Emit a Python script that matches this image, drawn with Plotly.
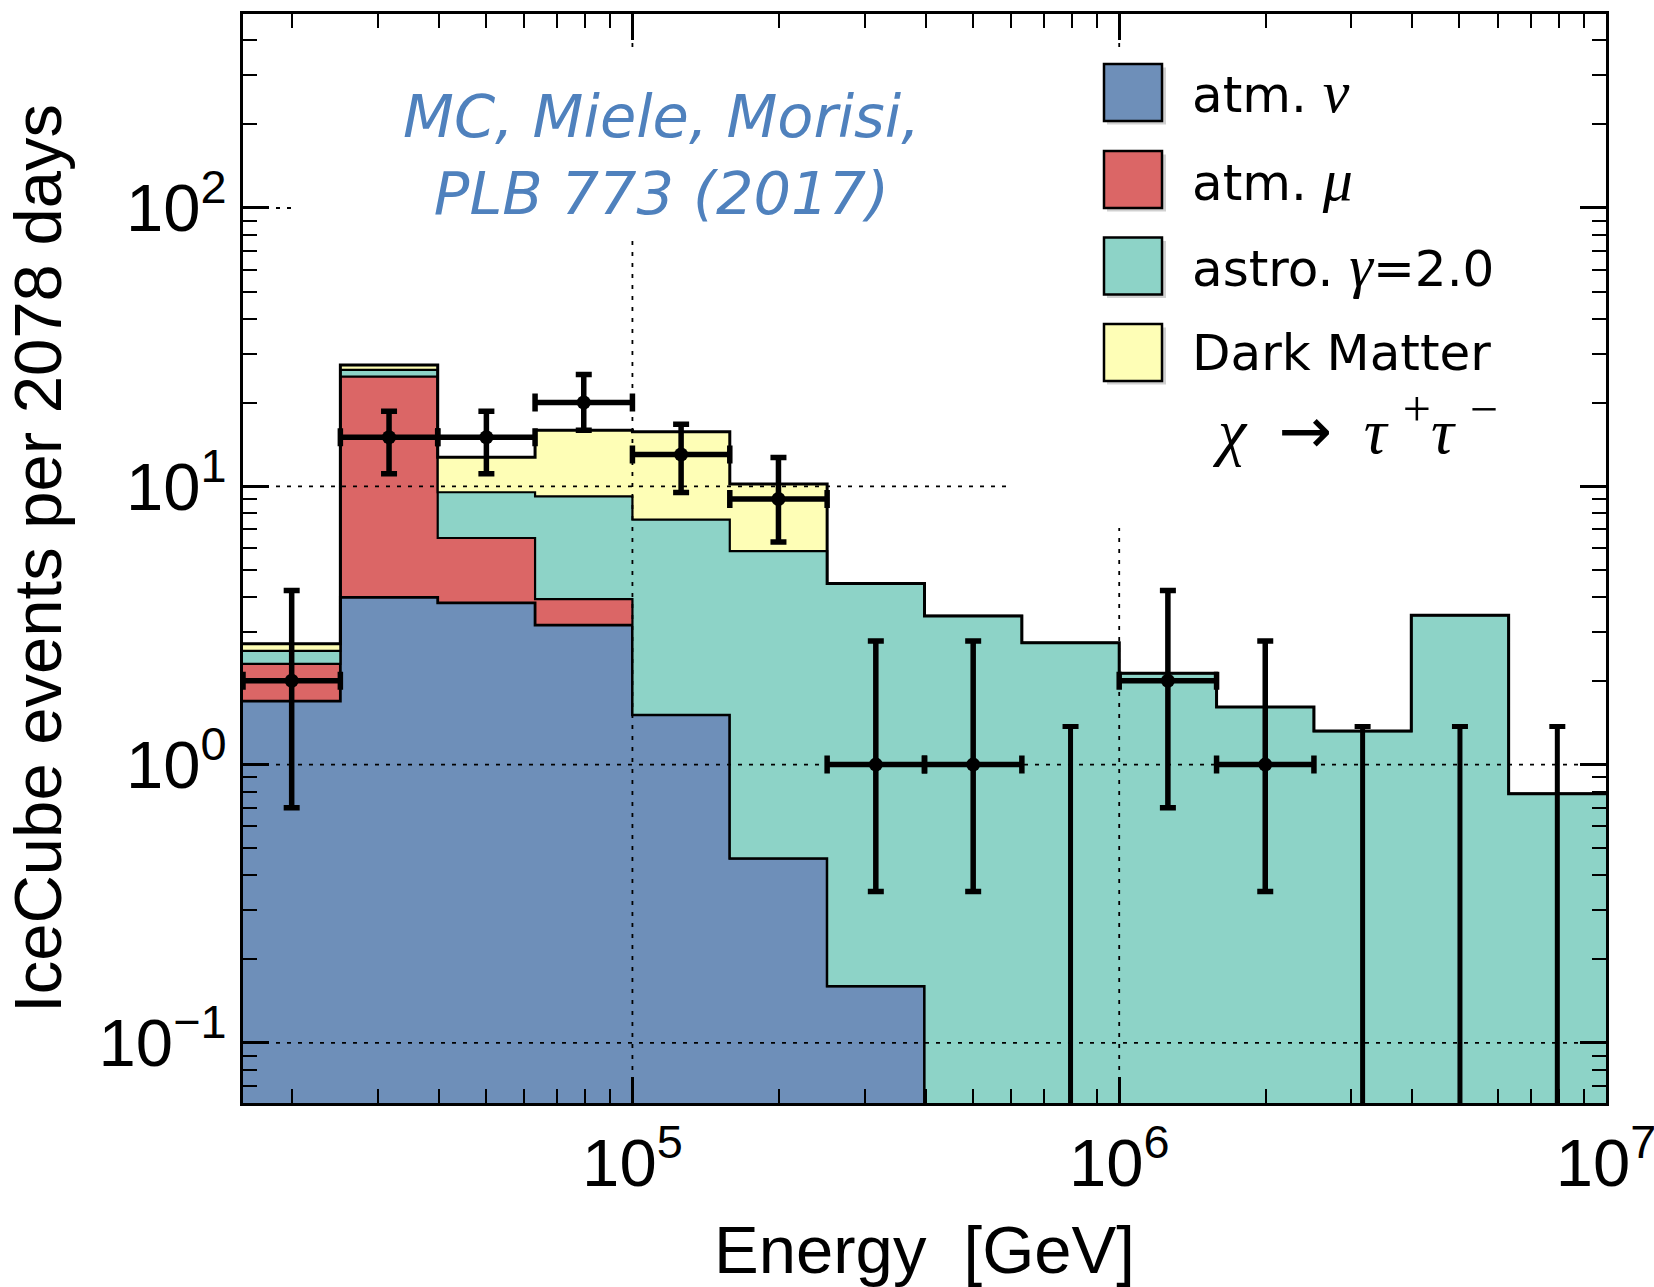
import numpy as np
import plotly.graph_objects as go

# ---------------- data ----------------
# bin edges in log10(E/GeV)
log_edges = [4.2, 4.4, 4.6, 4.8, 5.0, 5.2, 5.4, 5.6, 5.8, 6.0, 6.2, 6.4, 6.6, 6.8, 7.0]

# stacked MC components (events per bin)
atm_nu = [1.69, 3.99, 3.81, 3.17, 1.51, 0.46, 0.16, 0, 0, 0, 0, 0, 0, 0]
atm_mu = [0.61, 20.8, 2.71, 0.76, 0, 0, 0, 0, 0, 0, 0, 0, 0, 0]
astro = [0.26, 1.4, 3.0, 5.27, 6.08, 5.39, 4.31, 3.42, 2.74, 2.13, 1.61, 1.32, 3.44, 0.786]
dark_matter = [0.16, 1.1, 3.2, 6.7, 8.1, 4.35, 0, 0, 0, 0, 0, 0, 0, 0]

# observed events with 68% intervals
observed = [2, 15, 15, 20, 13, 9, 1, 1, 0, 2, 1, 0, 0, 0]
obs_hi = [4.22, 18.6, 18.6, 25.2, 16.7, 12.7, 2.78, 2.78, 1.37, 4.22, 2.78, 1.37, 1.37, 1.37]
obs_lo = [0.70, 11.1, 11.1, 15.9, 9.5, 6.3, 0.35, 0.35, 0, 0.70, 0.35, 0, 0, 0]

x_ticks = [1e5, 1e6, 1e7]
x_ticktext = ["10<sup>5</sup>", "10<sup>6</sup>", "10<sup>7</sup>"]
y_ticks = [0.1, 1, 10, 100]
y_ticktext = ["10<sup>\u22121</sup>", "10<sup>0</sup>", "10<sup>1</sup>", "10<sup>2</sup>"]

GREEK = "<span style=\"font-family:'Liberation Serif';font-size:60px\"><i>{}</i></span>"
legend_labels = [
    "atm. " + GREEK.format("\u03bd"),
    "atm. " + GREEK.format("\u03bc"),
    "astro. " + GREEK.format("\u03b3") + "=2.0",
    "Dark Matter",
]
SUP = "<sup><span style=\"font-size:50px\">{}</span></sup>"
dm_channel = ("<i>\u03c7</i>  <span style=\"font-family:'DejaVu Sans'\">\u2192</span>  <i>\u03c4</i> "
              + SUP.format("+") + "<i>\u03c4</i> " + SUP.format("\u2212"))
colors = ["#6E8FB9", "#DB6666", "#8DD3C7", "#FEFEB6"]

# ---------------- geometry ----------------
X_RANGE = [4.2, 7.0]
Y_RANGE = [-1.216, 2.697]
FLOOR = 1e-3
L, R, T, B = 243, 1606, 14, 1103
W, H = 1654, 1287


def px_x(p):
    return (p - L) / (R - L)


def px_y(p):
    return (B - p) / (B - T)


edges = np.power(10.0, np.array(log_edges))
lo_e, hi_e = edges[:-1], edges[1:]
centers = np.power(10.0, (np.array(log_edges[:-1]) + np.array(log_edges[1:])) / 2)

fig = go.Figure()

# baseline for fills
fig.add_trace(go.Scatter(x=edges, y=[FLOOR] * len(edges), mode="lines",
                         line=dict(width=0, shape="hv"), hoverinfo="skip", showlegend=False))

cum = np.zeros(len(atm_nu))
line_w = [2.8, 2.2, 2.2, 3.0]
for comp, col, lw in zip([atm_nu, atm_mu, astro, dark_matter], colors, line_w):
    cum = cum + np.array(comp, dtype=float)
    yy = np.maximum(cum, FLOOR)
    yy = np.append(yy, yy[-1])
    fig.add_trace(go.Scatter(x=edges, y=yy, mode="lines", fill="tonexty", fillcolor=col,
                             line=dict(color="black", width=lw, shape="hv"),
                             hoverinfo="skip", showlegend=False))

# dotted grid lines (drawn above the fills)
grid_style = dict(color="black", width=1.8, dash="4px,7px")
xlo, xhi = 10 ** X_RANGE[0], 10 ** X_RANGE[1]
ylo, yhi = 10 ** Y_RANGE[0], 10 ** Y_RANGE[1]
for gx in x_ticks[:2]:
    fig.add_trace(go.Scatter(x=[gx, gx], y=[ylo, yhi], mode="lines", line=grid_style,
                             hoverinfo="skip", showlegend=False))
for gy in y_ticks:
    fig.add_trace(go.Scatter(x=[xlo, xhi], y=[gy, gy], mode="lines", line=grid_style,
                             hoverinfo="skip", showlegend=False))

# data points
obs = np.array(observed, dtype=float)
hi = np.array(obs_hi)
lo = np.array(obs_lo)
m = obs > 0
fig.add_trace(go.Scatter(
    x=centers[m], y=obs[m], mode="markers",
    marker=dict(size=14, color="black"),
    error_y=dict(type="data", symmetric=False, array=(hi - obs)[m], arrayminus=(obs - lo)[m],
                 thickness=5.5, width=8, color="black"),
    error_x=dict(type="data", symmetric=False, array=(hi_e - centers)[m],
                 arrayminus=(centers - lo_e)[m], thickness=5.5, width=9, color="black"),
    hoverinfo="skip", showlegend=False))
# upper limits for empty bins
u = ~m
fig.add_trace(go.Scatter(
    x=centers[u], y=[FLOOR * 10] * int(u.sum()), mode="markers",
    marker=dict(size=1, color="rgba(0,0,0,0)"),
    error_y=dict(type="data", symmetric=False, array=hi[u] - FLOOR * 10,
                 arrayminus=[0] * int(u.sum()), thickness=5, width=8, color="black"),
    hoverinfo="skip", showlegend=False))

# white panels behind the label and the legend
shapes = [
    dict(type="rect", xref="paper", yref="paper", x0=px_x(292), x1=px_x(1578),
         y0=px_y(237), y1=px_y(54), fillcolor="white", line=dict(width=0), layer="above"),
    dict(type="rect", xref="paper", yref="paper", x0=px_x(1013), x1=px_x(1578),
         y0=px_y(528), y1=px_y(54), fillcolor="white", line=dict(width=0), layer="above"),
]
annotations = []
sw_y = [92.5, 179.5, 266, 352.5]
for yc, col, lab in zip(sw_y, colors, legend_labels):
    shapes.append(dict(type="rect", xref="paper", yref="paper",
                       x0=px_x(1107), x1=px_x(1166), y0=px_y(yc + 32), y1=px_y(yc - 25),
                       fillcolor="rgba(0,0,0,0.18)", line=dict(width=0), layer="above"))
    shapes.append(dict(type="rect", xref="paper", yref="paper",
                       x0=px_x(1104), x1=px_x(1162), y0=px_y(yc + 28.5), y1=px_y(yc - 28.5),
                       fillcolor=col, line=dict(color="black", width=2.5), layer="above"))
    annotations.append(dict(xref="paper", yref="paper", x=px_x(1190), y=px_y(yc),
                            xanchor="left", yanchor="middle", showarrow=False, text=lab,
                            font=dict(family="DejaVu Sans", size=50, color="black")))

annotations.append(dict(
    xref="paper", yref="paper", x=px_x(1500), y=px_y(424), xanchor="right", yanchor="middle",
    showarrow=False, text=dm_channel,
    font=dict(family="Liberation Serif", size=64, color="black")))

annotations.append(dict(
    xref="paper", yref="paper", x=px_x(661), y=px_y(155), xanchor="center", yanchor="middle",
    showarrow=False, align="center",
    text="<i>MC, Miele, Morisi,</i><br><i>PLB 773 (2017)</i>",
    font=dict(family="DejaVu Sans", size=59, color="#4F81BD")))

axis_common = dict(
    showline=True, linewidth=3, linecolor="black", mirror="allticks",
    ticks="inside", ticklen=26, tickwidth=2.5, tickcolor="black",
    showgrid=False, zeroline=False, ticklabeloverflow="allow",
    tickfont=dict(family="Liberation Sans, Arial", size=67, color="black"),
    title_font=dict(family="Liberation Sans, Arial", size=67, color="black"),
)

x_minor = [k * 10 ** e for e in range(4, 7) for k in range(2, 10)
           if X_RANGE[0] <= np.log10(k * 10 ** e) <= X_RANGE[1]]
y_minor = [k * 10 ** e for e in range(-2, 3) for k in range(2, 10)
           if Y_RANGE[0] <= np.log10(k * 10 ** e) <= Y_RANGE[1]]

fig.update_layout(
    width=W, height=H,
    margin=dict(l=L, r=W - R, t=T, b=H - B, autoexpand=False),
    paper_bgcolor="white", plot_bgcolor="white",
    showlegend=False,
    xaxis=dict(type="log", range=X_RANGE, tickmode="array", tickvals=x_ticks, ticktext=x_ticktext,
               title=dict(text="Energy  [GeV]", standoff=40),
               minor=dict(tickmode="array", tickvals=x_minor, ticks="inside", ticklen=14,
                          tickwidth=2.2, tickcolor="black", showgrid=False),
               **axis_common),
    yaxis=dict(type="log", range=Y_RANGE, tickmode="array", tickvals=y_ticks, ticktext=y_ticktext,
               title=dict(text="IceCube events per 2078 days", standoff=24),
               minor=dict(tickmode="array", tickvals=y_minor, ticks="inside", ticklen=14,
                          tickwidth=2.2, tickcolor="black", showgrid=False),
               **axis_common),
    shapes=shapes,
    annotations=annotations,
)

fig.write_html("out.html")
